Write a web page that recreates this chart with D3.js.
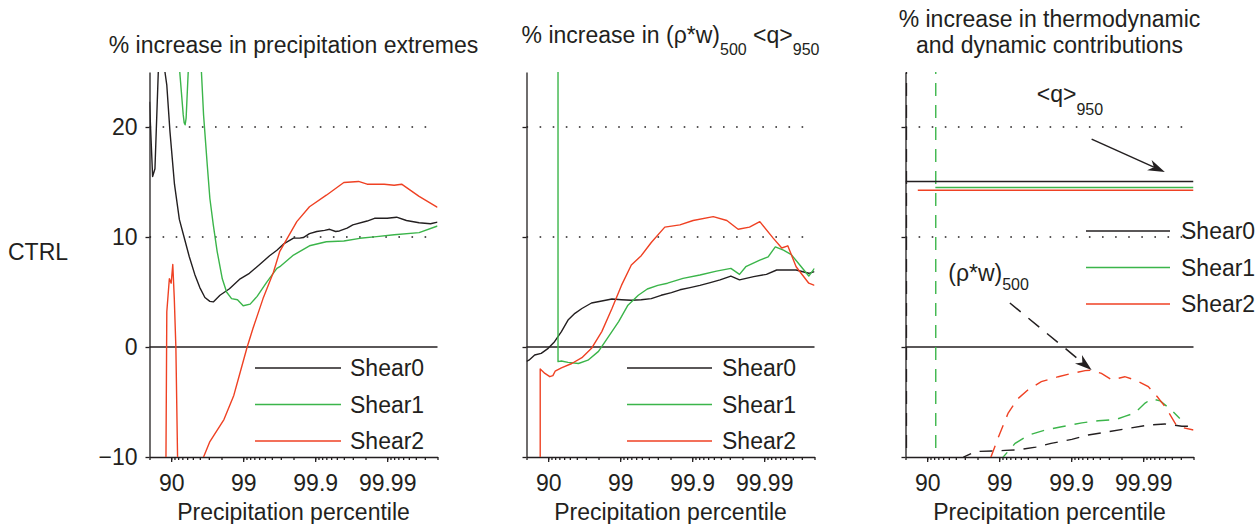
<!DOCTYPE html>
<html>
<head>
<meta charset="utf-8">
<script src="https://cdn.jsdelivr.net/npm/d3@7"></script>
<style>
  body { margin: 0; background: #fff; }
  text { font-family: "Liberation Sans", Arial, Helvetica, sans-serif; fill: #231f20; }
</style>
</head>
<body>
<svg></svg>
<script>
// values: [percentile, % increase]
const percentileTicks = [90, 99, 99.9, 99.99];
const valueTicks = [-10, 0, 10, 20];
const dottedLevels = [10, 20];
const seriesNames = ["Shear0", "Shear1", "Shear2"];
const seriesColors = ["#231f20", "#3bb54a", "#ef4123"];

const extremesShear0 = [[80, 22.3], [81.9, 15.5], [83.2, 16.2], [84.9, 25], [86.3, 40], [87.8, 25], [88.5, 23.8], [89.6, 19.6], [91.0, 14.8], [92.3, 11.6], [93.5, 9.8], [94.4, 8.2], [95.3, 6.6], [96.0, 5.4], [96.6, 4.5], [97.1, 4.15], [97.4, 4.1], [97.9, 4.7], [98.45, 5.3], [98.9, 6.2], [99.18, 6.7], [99.41, 7.5], [99.57, 8.3], [99.66, 8.8], [99.73, 9.4], [99.8, 9.9], [99.835, 9.9], [99.854, 9.95], [99.88, 10.3], [99.905, 10.5], [99.926, 10.6], [99.937, 10.7], [99.948, 10.5], [99.954, 10.55], [99.964, 10.8], [99.97, 11.1], [99.981, 11.45], [99.985, 11.7], [99.99, 11.7], [99.9926, 11.8], [99.9946, 11.5], [99.9964, 11.3], [99.9975, 11.2], [99.998, 11.35]];
const extremesShear1 = [[92.4, 25], [93.2, 21.1], [93.4, 20.4], [93.6, 20.2], [93.8, 20.8], [94.2, 25], [95.2, 40], [96.2, 25], [96.45, 21.1], [96.85, 16.5], [97.1, 13.5], [97.4, 11.1], [97.7, 8.7], [98.05, 6.2], [98.3, 5.0], [98.55, 4.4], [98.8, 4.3], [99.0, 3.75], [99.2, 3.9], [99.36, 4.6], [99.53, 5.9], [99.66, 7.15], [99.69, 7.3], [99.8, 8.36], [99.88, 9.2], [99.93, 9.57], [99.96, 9.64], [99.976, 9.88], [99.986, 10.03], [99.992, 10.2], [99.9964, 10.4], [99.998, 11.0]];
const extremesShear2 = [[87.7, -30], [88.5, 3.2], [89.4, 6.2], [90.0, 5.8], [90.5, 7.5], [90.95, 4.4], [91.4, -0.1], [91.85, -10], [92.3, -30], [95.5, -30], [96.45, -10], [97.1, -8.6], [98.15, -6.6], [98.65, -4.4], [98.9, -2.3], [99.12, 0], [99.27, 1.7], [99.47, 4.4], [99.62, 6.8], [99.69, 8.7], [99.82, 11.4], [99.88, 12.75], [99.93, 13.8], [99.96, 14.95], [99.975, 15.05], [99.981, 14.8], [99.989, 14.8], [99.992, 14.7], [99.9937, 14.8], [99.9964, 13.7], [99.998, 12.7]];

const fluxShear0 = [[80, -1.3], [81.5, -1.2], [84.6, -0.73], [87.5, -0.58], [90.0, -0.12], [91.85, 0.48], [93.45, 1.4], [94.7, 2.45], [95.75, 3.06], [96.6, 3.5], [97.5, 4.0], [98.2, 4.18], [98.7, 4.36], [99.04, 4.3], [99.3, 4.25], [99.49, 4.3], [99.63, 4.4], [99.73, 4.7], [99.806, 4.94], [99.852, 5.2], [99.893, 5.4], [99.922, 5.6], [99.944, 5.85], [99.959, 6.1], [99.971, 6.45], [99.978, 6.1], [99.986, 6.4], [99.9907, 6.6], [99.9933, 7.0], [99.9964, 7.0], [99.9976, 6.7], [99.998, 6.85]];
const fluxShear1 = [[92.7, 40], [92.7, -1.33], [93.45, -1.27], [94.7, -1.4], [96.2, -1.5], [97.2, -1.2], [98.0, -0.4], [98.5, 0.8], [98.95, 2.3], [99.22, 3.8], [99.44, 4.7], [99.58, 5.27], [99.7, 5.6], [99.78, 5.8], [99.866, 6.24], [99.922, 6.55], [99.954, 6.9], [99.971, 7.15], [99.978, 6.6], [99.982, 7.3], [99.9885, 7.9], [99.9912, 8.2], [99.993, 9.1], [99.9946, 8.8], [99.9958, 8.4], [99.9968, 7.45], [99.9976, 6.45], [99.998, 7.15]];
const fluxShear2 = [[87.1, -30], [87.1, -2.0], [88.9, -2.4], [90.5, -2.7], [91.4, -2.6], [92.0, -2.2], [93.45, -1.9], [95.3, -1.5], [96.6, -0.97], [97.5, -0.12], [98.2, 1.4], [98.7, 3.5], [99.04, 5.6], [99.3, 7.45], [99.49, 8.3], [99.63, 9.5], [99.76, 10.9], [99.852, 11.1], [99.903, 11.5], [99.949, 11.85], [99.967, 11.5], [99.977, 10.7], [99.984, 10.9], [99.9885, 11.4], [99.9925, 9.9], [99.9943, 9.0], [99.9953, 9.2], [99.9964, 7.3], [99.9976, 5.8], [99.998, 5.6]];

const thermoShear0 = [[80, 15.05], [99.998, 15.05]];
const thermoShear1 = [[92.3, 14.5], [99.998, 14.5]];
const thermoShear2 = [[86.5, 14.25], [99.998, 14.25]];

const dynamicShear0 = [[80.6, 40], [80.6, -40], [96.9, -10], [97.85, -9.5], [98.9, -9.45], [99.17, -9.4], [99.45, -9.36], [99.69, -9.1], [99.81, -8.76], [99.902, -8.4], [99.942, -8.0], [99.97, -7.7], [99.984, -7.4], [99.9915, -7.1], [99.995, -7.0], [99.9971, -7.2], [99.998, -7.2]];
const dynamicShear1 = [[92.4, 40], [92.4, -40], [99.12, -10], [99.4, -8.76], [99.61, -8.0], [99.77, -7.55], [99.864, -7.25], [99.929, -6.9], [99.958, -6.7], [99.976, -6.6], [99.982, -6.3], [99.987, -6.0], [99.9906, -5.1], [99.9924, -4.7], [99.9942, -4.9], [99.9959, -5.7], [99.9969, -6.5]];
const dynamicShear2 = [[97.5, -30], [98.7, -10], [98.98, -8.15], [99.25, -6.0], [99.45, -4.7], [99.61, -3.85], [99.74, -3.15], [99.849, -2.7], [99.902, -2.4], [99.936, -2.15], [99.948, -2.1], [99.962, -2.4], [99.973, -3.0], [99.982, -2.7], [99.987, -3.0], [99.9915, -3.6], [99.9936, -4.5], [99.995, -5.4], [99.9959, -6.3], [99.9966, -7.2], [99.998, -7.55]];

// annotation anchors in data units (panel 3)
const qLabel = [99.70, 22.3];
const qArrow = [[99.948, 18.9], [99.995, 15.9]];
const rhoLabel = [94.9, 6.0];
const rhoArrow = [[99.29, 4.0], [99.948, -2.1]];

const FS = 23;
const svg = d3.select("svg").attr("width", 1256).attr("height", 524);

const x = d3.scaleLog().domain([20, 0.002]).range([0, 288]);
const y = d3.scaleLinear().domain([-10, 25]).range([457, 72]);
const px = p => x(100 - p);
const line = d3.line().x(d => px(d[0])).y(d => y(d[1]));

svg.append("defs").append("clipPath").attr("id", "plot-clip")
  .append("rect")
  .attr("x", 0).attr("y", y(25))
  .attr("width", 288).attr("height", y(-10) - y(25));

const panels = [
  { x0: 149.5, solid: [extremesShear0, extremesShear1, extremesShear2], dashed: [],
    legend: { x1: 105.5, x2: 191.5, tx: 200.5, y0: 368 } },
  { x0: 526.5, solid: [fluxShear0, fluxShear1, fluxShear2], dashed: [],
    legend: { x1: 100.5, x2: 185.5, tx: 195.5, y0: 368 } },
  { x0: 905.5, solid: [thermoShear0, thermoShear1, thermoShear2], dashed: [dynamicShear0, dynamicShear1, dynamicShear2],
    legend: { x1: 180.5, x2: 264.5, tx: 275.5, y0: 231 } }
];

panels.forEach((p, i) => {
  const g = svg.append("g").attr("transform", `translate(${p.x0},0)`);

  // reference lines
  g.selectAll(".dotted").data(dottedLevels).enter().append("line")
    .attr("x1", 0).attr("x2", 288)
    .attr("y1", d => y(d)).attr("y2", d => y(d))
    .attr("stroke", "#231f20").attr("stroke-width", 1.6)
    .attr("stroke-dasharray", "1.6,11.5");
  g.append("line")
    .attr("x1", 0).attr("x2", 288).attr("y1", y(0)).attr("y2", y(0))
    .attr("stroke", "#231f20").attr("stroke-width", 1.3);

  // axes
  const left = g.append("g").call(
    d3.axisLeft(y).tickValues(valueTicks).tickSize(4).tickSizeOuter(0).tickPadding(8)
      .tickFormat(i === 0 ? d3.format("d") : "")
  );
  const minor = g.append("g").attr("transform", `translate(0,${y(-10)})`).call(
    d3.axisBottom(x).tickValues(x.ticks()).tickSize(3).tickSizeOuter(0).tickFormat("")
  );
  const major = g.append("g").attr("transform", `translate(0,${y(-10)})`).call(
    d3.axisBottom(x).tickValues(percentileTicks.map(v => 100 - v)).tickSize(5).tickSizeOuter(0)
      .tickPadding(13).tickFormat((d, k) => percentileTicks[k])
  );
  major.select(".domain").remove();
  [left, minor, major].forEach(a => {
    a.attr("font-size", FS).attr("font-family", null);
    a.selectAll("path, line").attr("stroke", "#231f20").attr("stroke-width", 1.3);
    a.selectAll("text").attr("fill", "#231f20");
  });

  g.append("text")
    .attr("x", 144).attr("y", 520).attr("text-anchor", "middle")
    .attr("font-size", FS).text("Precipitation percentile");

  // curves
  const curves = g.append("g").attr("clip-path", "url(#plot-clip)");
  p.dashed.forEach((s, k) => {
    curves.append("path").datum(s).attr("d", line)
      .attr("fill", "none").attr("stroke", seriesColors[k]).attr("stroke-width", 1.4)
      .attr("stroke-dasharray", "13,9");
  });
  p.solid.forEach((s, k) => {
    curves.append("path").datum(s).attr("d", line)
      .attr("fill", "none").attr("stroke", seriesColors[k]).attr("stroke-width", 1.4)
      .attr("stroke-linejoin", "round");
  });

  // legend
  const lg = g.append("g");
  seriesNames.forEach((name, k) => {
    const ly = p.legend.y0 + k * 36.5;
    lg.append("line")
      .attr("x1", p.legend.x1).attr("x2", p.legend.x2).attr("y1", ly).attr("y2", ly)
      .attr("stroke", seriesColors[k]).attr("stroke-width", 1.4);
    lg.append("text")
      .attr("x", p.legend.tx).attr("y", ly).attr("dy", "0.36em")
      .attr("font-size", FS).text(name);
  });
  p.g = g;
});

// titles
panels[0].g.append("text").attr("x", 144).attr("y", 53)
  .attr("text-anchor", "middle").attr("font-size", FS)
  .text("% increase in precipitation extremes");

const t2 = panels[1].g.append("text").attr("x", 144).attr("y", 43)
  .attr("text-anchor", "middle").attr("font-size", FS).style("white-space", "pre");
t2.append("tspan").text("% increase in (ρ*w)");
t2.append("tspan").attr("dy", 12).attr("font-size", 16).text("500");
t2.append("tspan").attr("dy", -12).text(" <q>");
t2.append("tspan").attr("dy", 12).attr("font-size", 16).text("950");

const t3 = panels[2].g.append("text").attr("text-anchor", "middle").attr("font-size", FS);
t3.append("tspan").attr("x", 144).attr("y", 27).text("% increase in thermodynamic");
t3.append("tspan").attr("x", 144).attr("y", 53).text("and dynamic contributions");

svg.append("text").attr("x", 8).attr("y", 260).attr("font-size", FS).text("CTRL");

// annotations in panel 3
const g3 = panels[2].g;
const qt = g3.append("text").attr("x", px(qLabel[0])).attr("y", y(qLabel[1])).attr("font-size", FS);
qt.append("tspan").text("<q>");
qt.append("tspan").attr("dy", 13).attr("font-size", 16).text("950");

const rt = g3.append("text").attr("x", px(rhoLabel[0])).attr("y", y(rhoLabel[1])).attr("font-size", FS);
rt.append("tspan").text("(ρ*w)");
rt.append("tspan").attr("dy", 9).attr("font-size", 16).text("500");

function arrow(pts, dashed) {
  const [a, b] = pts.map(d => [px(d[0]), y(d[1])]);
  const ang = Math.atan2(b[1] - a[1], b[0] - a[0]);
  const len = 17, half = 5.5, notch = 12;
  const back = (l, w) => [b[0] - l * Math.cos(ang) - w * Math.sin(ang), b[1] - l * Math.sin(ang) + w * Math.cos(ang)];
  const stop = back(notch, 0);
  g3.append("line")
    .attr("x1", a[0]).attr("y1", a[1]).attr("x2", stop[0]).attr("y2", stop[1])
    .attr("stroke", "#231f20").attr("stroke-width", 1.5)
    .attr("stroke-dasharray", dashed ? "14,10" : null);
  g3.append("path")
    .attr("d", "M" + [b, back(len, half), stop, back(len, -half)].map(q => q.join(",")).join("L") + "Z")
    .attr("fill", "#231f20");
}
arrow(qArrow, false);
arrow(rhoArrow, true);
</script>
</body>
</html>
